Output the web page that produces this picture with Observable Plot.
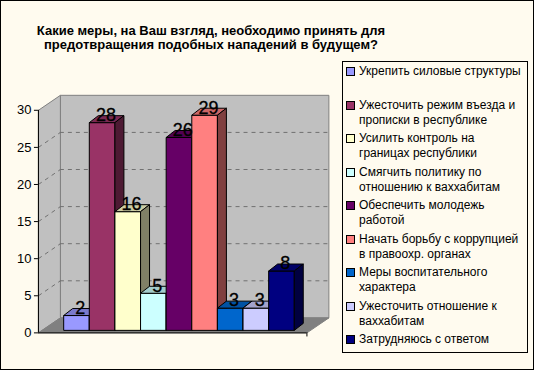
<!DOCTYPE html>
<html><head><meta charset="utf-8">
<script src="https://cdn.jsdelivr.net/npm/d3@7"></script>
<script src="https://cdn.jsdelivr.net/npm/@observablehq/plot@0.6"></script>
<style>
html,body{margin:0;padding:0;background:#fff;}
#chart{position:relative;width:534px;height:370px;box-sizing:border-box;border:1px solid #000;background:#FFFBEF;font-family:"Liberation Sans",Arial,sans-serif;overflow:hidden;color:#000}
#title{position:absolute;left:0;width:420px;top:23px;text-align:center;font-weight:bold;font-size:13px;line-height:14px;white-space:pre}
#plot{position:absolute;left:-1px;top:-1px}
#legend{position:absolute;left:341px;top:60px;width:186px;height:292px;border:1px solid #000;box-sizing:border-box}
.item{position:absolute;left:2px;font-size:12px;line-height:15px;white-space:pre;padding-left:14px}
.sw{position:absolute;left:1px;top:3px;width:7px;height:7px;border:1px solid #000}
</style></head>
<body>
<div id="chart">
  <div id="title"></div>
  <div id="plot"></div>
  <div id="legend"></div>
</div>
<script>
const titleLines = ["Какие меры, на Ваш взгляд, необходимо принять для", "предотвращения подобных нападений в будущем?"];
const categories = [
  "Укрепить силовые структуры",
  "Ужесточить режим въезда и\nпрописки в республике",
  "Усилить контроль на\nграницах республики",
  "Смягчить политику по\nотношению к ваххабитам",
  "Обеспечить молодежь\nработой",
  "Начать борьбу с коррупцией\nв правоохр. органах",
  "Меры воспитательного\nхарактера",
  "Ужесточить отношение к\nваххабитам",
  "Затрудняюсь с ответом"
];
const values = [2, 28, 16, 5, 26, 29, 3, 3, 8];
const colors = ["#9999FF", "#993366", "#FFFFCC", "#CCFFFF", "#660066", "#FF8080", "#0066CC", "#CCCCFF", "#000080"];
const yTicks = [0, 5, 10, 15, 20, 25, 30];

// layout constants (data units: one bar width on x, value units on y)
const UX = 25.67, UY = 7.433;
const FW = 269 / UX;              // floor width
const DX = 22 / UX, DY = 15 / UY; // wall depth
const BX0 = 25.3 / UX, BY0 = 2.5 / UY; // bar front plane origin
const BDX = 9 / UX, BDY = 7 / UY;  // bar depth

function shade(c, k) {
  const r = d3.rgb(c);
  return d3.rgb(r.r * k, r.g * k, r.b * k).formatHex();
}

const pts = [];
function poly(id, coords, fill, stroke) {
  coords.concat([coords[0]]).forEach(([x, y]) => pts.push({id, x, y, fill, stroke}));
}
// walls and floor
poly("back", [[DX, DY], [FW + DX, DY], [FW + DX, 30 + DY], [DX, 30 + DY]], "#C0C0C0", "#808080");
poly("left", [[0, 0], [DX, DY], [DX, 30 + DY], [0, 30]], "#C0C0C0", "#808080");
poly("floor", [[0, 0], [FW, 0], [FW + DX, DY], [DX, DY]], "#808080", "#808080");

const barPts = [];
function bpoly(id, coords, fill) {
  coords.concat([coords[0]]).forEach(([x, y]) => barPts.push({id, x, y, fill}));
}
values.forEach((v, i) => {
  const L = BX0 + i, R = L + 1, B = BY0, T = v + BY0;
  bpoly("f" + i, [[L, B], [R, B], [R, T], [L, T]], colors[i]);
  bpoly("t" + i, [[L, T], [R, T], [R + BDX, T + BDY], [L + BDX, T + BDY]], shade(colors[i], 0.8));
  bpoly("s" + i, [[R, B], [R + BDX, B + BDY], [R + BDX, T + BDY], [R, T]], shade(colors[i], 0.5));
});

const grid = yTicks.filter(t => t > 0 && t < 30);
const labels = values.map((v, i) => ({x: BX0 + i + 0.5 + 0.15, y: v + BY0 + 1.0, t: String(v)}));

const plot = Plot.plot({
  width: 534, height: 370,
  marginLeft: 38, marginRight: 534 - 307, marginTop: 110, marginBottom: 37,
  x: {domain: [0, FW], axis: null},
  y: {domain: [0, 30], axis: null},
  color: {type: "identity"},
  style: {background: "transparent", fontFamily: "Liberation Sans, Arial, sans-serif", fontSize: "13px", color: "#000", overflow: "visible"},
  marks: [
    Plot.line(pts, {x: "x", y: "y", z: "id", fill: "fill", stroke: "stroke", strokeWidth: 1, strokeLinecap: "butt", strokeLinejoin: "miter"}),
    Plot.ruleY(grid, {x1: DX, x2: FW + DX, y: d => d + DY, stroke: "#707070", strokeDasharray: "4,4", strokeWidth: 1}),
    Plot.link(grid, {x1: 0, y1: d => d, x2: DX, y2: d => d + DY, stroke: "#707070", strokeDasharray: "4,4", strokeWidth: 1}),
    Plot.line(barPts, {x: "x", y: "y", z: "id", fill: "fill", stroke: "#000", strokeWidth: 1, strokeLinecap: "butt", strokeLinejoin: "miter"}),
    Plot.ruleX([0], {y1: 0, y2: 30, stroke: "#000"}),
    Plot.ruleY([0], {stroke: "#000"}),
    Plot.ruleX([FW], {y1: 0, y2: -0.55, stroke: "#000"}),
    Plot.axisY(yTicks, {tickSize: 4, tickPadding: 3, label: null, fontSize: 13, stroke: "#000", fill: "#000"}),
    Plot.text(labels, {x: "x", y: "y", text: "t", fontSize: 18, fill: "#000", stroke: "#000", strokeWidth: 0.3})
  ]
});
document.getElementById("plot").appendChild(plot);

document.getElementById("title").textContent = titleLines.join("\n");

const legend = document.getElementById("legend");
categories.forEach((c, i) => {
  const cy = 71 + i * 33.5;       // page y of first line center
  const it = document.createElement("div");
  it.className = "item";
  it.style.top = (cy - 61 - 8) + "px";
  const sw = document.createElement("div");
  sw.className = "sw";
  sw.style.background = colors[i];
  it.appendChild(sw);
  it.appendChild(document.createTextNode(c));
  legend.appendChild(it);
});
</script>
</body></html>
